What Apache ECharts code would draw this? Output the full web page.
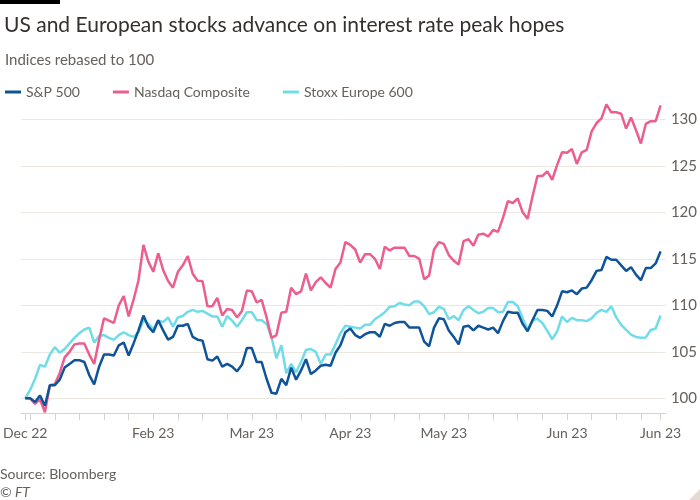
<!DOCTYPE html>
<html>
<head>
<meta charset="utf-8">
<script src="https://cdn.jsdelivr.net/npm/echarts@6/dist/echarts.min.js"></script>
<style>html,body{margin:0;padding:0;background:#fff}#c{width:700px;height:500px}</style>
</head>
<body>
<div id="c"></div>
<script>
// ---- Data (indices rebased to 100; trading days 30 Dec 2022 – 30 Jun 2023) ----
const seriesNames = ['S&P 500', 'Nasdaq Composite', 'Stoxx Europe 600'];

const sp500 = [
100.0,100.0,99.6,100.3,99.2,101.4,101.4,102.0,103.3,103.7,
104.1,104.1,103.9,102.5,101.5,103.4,104.7,104.7,104.6,105.7,
106.0,104.6,105.9,107.3,108.9,107.7,107.1,108.4,107.3,106.3,
106.6,107.8,107.8,108.0,106.6,106.3,106.2,104.2,104.05,104.5,
103.4,103.7,103.4,102.9,103.6,105.4,105.4,103.9,103.9,102.1,
100.6,100.5,102.1,101.4,103.3,102.0,103.0,104.2,102.6,103.0,
103.5,103.6,103.5,104.9,105.7,107.1,107.5,106.8,106.5,106.9,
107.1,107.1,106.6,108.0,107.8,108.1,108.2,108.2,107.6,107.6,
107.6,106.1,105.6,107.6,108.6,108.5,107.3,106.6,105.8,107.7,
107.8,107.3,107.8,107.6,107.4,107.6,107.0,108.3,109.3,109.2,
109.2,108.0,107.2,108.4,109.5,109.5,109.4,108.8,110.0,111.5,
111.4,111.6,111.2,111.8,111.9,112.7,113.7,113.8,115.2,114.9,
114.9,114.3,113.7,114.1,113.3,112.7,114.0,114.0,114.5,115.8];

const nasdaq = [
100.0,100.0,99.4,99.9,98.5,101.4,101.5,102.7,104.4,105.0,
105.8,105.9,105.9,104.7,103.7,106.3,108.6,108.35,108.1,110.0,
111.0,108.8,110.6,112.7,116.5,114.7,113.6,115.6,113.8,112.6,
111.9,113.6,114.3,115.3,113.4,112.65,112.6,109.9,109.9,110.8,
108.9,109.6,109.5,108.7,109.4,111.6,111.5,110.3,110.6,108.7,
106.5,106.8,109.2,109.3,111.9,111.2,111.5,113.4,111.6,112.5,
113.0,112.4,111.9,113.9,114.6,116.8,116.5,116.0,114.6,115.5,
115.5,115.0,113.9,116.3,115.9,116.2,116.2,116.2,115.3,115.3,
115.0,112.8,113.2,116.0,116.8,116.6,115.4,114.8,114.4,116.9,
117.1,116.4,117.6,117.7,117.4,118.1,117.9,119.4,121.2,121.0,
121.5,120.0,119.3,121.7,123.9,123.9,124.4,123.5,125.1,126.45,
126.4,126.8,125.2,126.45,126.7,128.7,129.6,130.1,131.6,130.75,
130.75,130.6,129.0,130.2,128.85,127.4,129.5,129.8,129.8,131.5];

const stoxx = [
100.0,100.9,102.1,103.6,103.4,104.7,105.5,104.9,105.3,105.9,
106.5,107.0,107.4,107.6,106.0,106.7,106.8,106.5,106.3,106.8,
107.1,106.8,106.6,107.1,108.4,108.0,107.45,108.35,108.2,108.7,
107.7,108.7,108.85,109.3,109.5,109.3,109.4,109.1,108.8,108.8,
107.7,108.85,108.35,107.7,108.4,109.25,109.25,108.4,108.4,108.0,
106.6,104.3,105.7,102.7,103.7,102.8,103.9,105.2,105.3,105.0,
103.7,104.7,104.7,105.8,107.0,107.8,107.7,107.6,107.5,107.9,
107.9,108.5,108.85,109.25,109.85,109.9,110.25,110.1,110.0,110.4,
110.4,109.9,109.05,109.25,109.85,109.6,108.5,108.85,108.4,109.5,
109.9,109.5,109.15,109.3,109.7,109.7,109.25,109.3,110.35,110.35,
109.9,108.6,107.4,108.4,108.55,108.1,107.25,106.35,107.2,108.8,
108.2,108.65,108.4,108.4,108.3,108.6,109.2,109.5,109.3,109.9,
108.7,107.9,107.35,106.85,106.6,106.5,106.55,107.35,107.5,108.9];

// y-axis tick labels
const yTicks = [100, 105, 110, 115, 120, 125, 130];
// x-axis: trading-day positions that carry a label
const xLabelIdx = [0, 26, 46, 66, 85, 110, 129];
const monthNames = ['Jan','Feb','Mar','Apr','May','Jun','Jul','Aug','Sep','Oct','Nov','Dec'];

// categories: trading days (weekdays, Good Friday closed)
const dates = [];
(function () {
  const d = new Date(Date.UTC(2022, 11, 30));
  const end = Date.UTC(2023, 5, 30);
  while (d.getTime() <= end) {
    const wd = d.getUTCDay();
    const iso = d.toISOString().slice(0, 10);
    if (wd !== 0 && wd !== 6 && iso !== '2023-04-07') dates.push(iso);
    d.setUTCDate(d.getUTCDate() + 1);
  }
})();
// weekly ticks on Mondays, plus first and last day
const tickIdx = [0];
dates.forEach((s, i) => { if (new Date(s + 'T00:00:00Z').getUTCDay() === 1) tickIdx.push(i); });
tickIdx.push(dates.length - 1);

function lbl(i) {
  const s = dates[Math.round(i)];
  return monthNames[+s.slice(5, 7) - 1] + ' ' + s.slice(2, 4);
}
const toPairs = arr => arr.map((v, i) => [i, v]);

const FONT = 'Lato';
const GREY = '#66605C';
const colors = ['#0F5499', '#EB5E8D', '#70DCE8'];

const chart = echarts.init(document.getElementById('c'), null, { renderer: 'canvas' });
chart.setOption({
  animation: false,
  backgroundColor: '#FFFFFF',
  textStyle: { fontFamily: FONT },
  title: [
    { text: 'US and European stocks advance on interest rate peak hopes', left: -1, top: 10,
      textStyle: { fontFamily: FONT, fontSize: 21, fontWeight: 'normal', color: '#33302E' } },
    { text: 'Indices rebased to 100', left: 0, top: 48,
      textStyle: { fontFamily: FONT, fontSize: 15, fontWeight: 'normal', color: GREY } }
  ],
  legend: {
    data: seriesNames, left: 0, top: 80, icon: 'rect', itemWidth: 16, itemHeight: 3, itemGap: 33,
    textStyle: { fontFamily: FONT, fontSize: 14, color: GREY }
  },
  grid: { left: 21, right: 34, top: 119.3, height: 279, containLabel: false },
  xAxis: {
    type: 'value', min: -0.83, max: 130.08,
    offset: 15,
    axisLine: { show: true, lineStyle: { color: '#DAD3CC', width: 1 } },
    axisTick: { show: true, length: 7, customValues: tickIdx, lineStyle: { color: '#DAD3CC' } },
    axisLabel: { show: true, customValues: xLabelIdx, formatter: v => lbl(v), margin: 13,
      fontFamily: FONT, fontSize: 14, color: GREY },
    splitLine: { show: false }
  },
  yAxis: {
    type: 'value', position: 'right', min: 100, max: 130, interval: 5,
    axisLine: { show: false }, axisTick: { show: false },
    axisLabel: { margin: 5, fontFamily: FONT, fontSize: 15, color: GREY,
      formatter: v => (yTicks.indexOf(v) >= 0 ? String(v) : '') },
    splitLine: { show: true, lineStyle: { color: '#EDE7E1', width: 1 } }
  },
  series: [
    { name: 'Stoxx Europe 600', type: 'line', data: toPairs(stoxx), showSymbol: false, clip: false,
      lineStyle: { width: 2.5, color: colors[2] }, itemStyle: { color: colors[2] }, z: 2 },
    { name: 'Nasdaq Composite', type: 'line', data: toPairs(nasdaq), showSymbol: false, clip: false,
      lineStyle: { width: 2.5, color: colors[1] }, itemStyle: { color: colors[1] }, z: 3 },
    { name: 'S&P 500', type: 'line', data: toPairs(sp500), showSymbol: false, clip: false,
      lineStyle: { width: 2.5, color: colors[0] }, itemStyle: { color: colors[0] }, z: 4 }
  ],
  graphic: [
    { type: 'rect', left: 0, top: 0, shape: { width: 60, height: 4 }, style: { fill: '#000' } },
    { type: 'text', left: 0, top: 467, style: { text: 'Source: Bloomberg', fill: GREY, font: '14px ' + FONT } },
    { type: 'text', left: 0, top: 485, style: { text: '© FT', fill: GREY, font: 'italic 14px ' + FONT } },
    { type: 'polygon', shape: { points: [[700, 489], [700, 500], [689, 500]] }, style: { fill: '#E3DBD3' } }
  ]
});
</script>
</body>
</html>
